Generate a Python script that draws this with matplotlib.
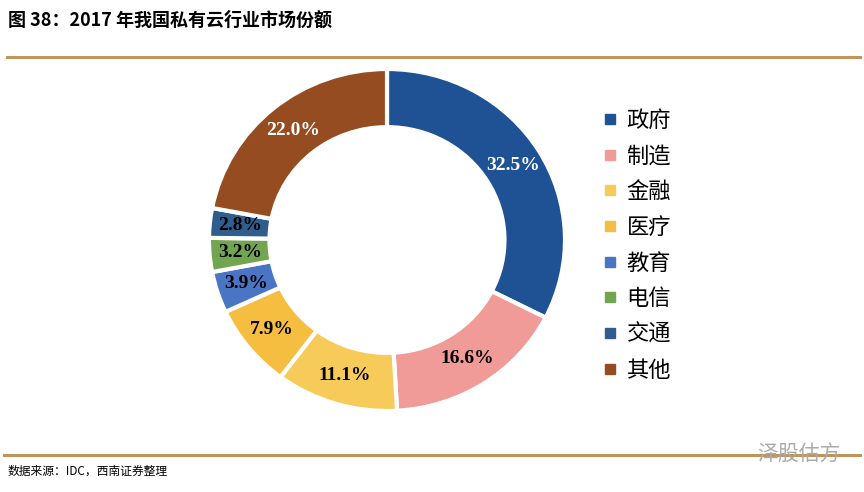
import numpy as np
import matplotlib.pyplot as plt
from matplotlib.lines import Line2D

plt.rcParams['font.family'] = ['Noto Sans CJK SC', 'DejaVu Sans']

# ---- Data ----
sectors = ["政府", "制造", "金融", "医疗", "教育", "电信", "交通", "其他"]
shares = [32.5, 16.6, 11.1, 7.9, 3.9, 3.2, 2.8, 22.0]
colors = ["#1F5294", "#F09B98", "#F7CB5A", "#F5BE41", "#4A74C4", "#72A551", "#2E5D8E", "#954C21"]
label_colors = ["white", "black", "black", "black", "black", "black", "black", "white"]

W, H = 864, 492
fig = plt.figure(figsize=(W / 100, H / 100), dpi=100)

# ---- Donut (slightly wider than tall, as in the source) ----
cx, cy = 387, 240
rx, ry = 178, 171
half = 190
ax = fig.add_axes([(cx - half) / W, 1 - (cy + half) / H, 2 * half / W, 2 * half / H])
wedges, _ = ax.pie(shares, colors=colors, startangle=90, counterclock=False,
                   radius=1, wedgeprops=dict(width=0.34, edgecolor="white", linewidth=3))
for w, val, tc in zip(wedges, shares, label_colors):
    ang = np.deg2rad((w.theta1 + w.theta2) / 2)
    rr = 0.83
    ax.text(rr * np.cos(ang), rr * np.sin(ang), f"{val:.1f}%", ha="center", va="center",
            color=tc, fontsize=14, fontweight="bold", family="Liberation Serif")
ax.set_aspect("auto")
ax.set_xlim(-half / rx, half / rx)
ax.set_ylim(-half / ry, half / ry)
ax.axis("off")

# ---- Legend ----
handles = [Line2D([], [], marker="s", linestyle="", markersize=7, color=c) for c in colors]
fig.legend(handles, sectors, loc="upper left", bbox_to_anchor=(592 / W, 1 - 100 / H),
           frameon=False, fontsize=16, labelspacing=0.57, handlelength=0.8,
           handletextpad=0.35, borderaxespad=0)

# ---- Title, rules, source ----
fig.text(8 / W, 1 - 20 / H, "图 38：2017 年我国私有云行业市场份额", fontsize=13,
         fontweight="bold", va="center", ha="left")
fig.add_artist(Line2D([7 / W, 860 / W], [1 - 57 / H, 1 - 57 / H], color="#C0955A", linewidth=2.2))
fig.add_artist(Line2D([4 / W, 860 / W], [1 - 455 / H, 1 - 455 / H], color="#C0955A", linewidth=2.2))
fig.text(8 / W, 1 - 471 / H, "数据来源：IDC，西南证券整理", fontsize=8.5, style="italic",
         va="center", ha="left")
fig.text(757 / W, 1 - 454 / H, "泽股估方", fontsize=15, color="#AAAAAA", va="center", ha="left")

fig.savefig("out.png", dpi=100)
